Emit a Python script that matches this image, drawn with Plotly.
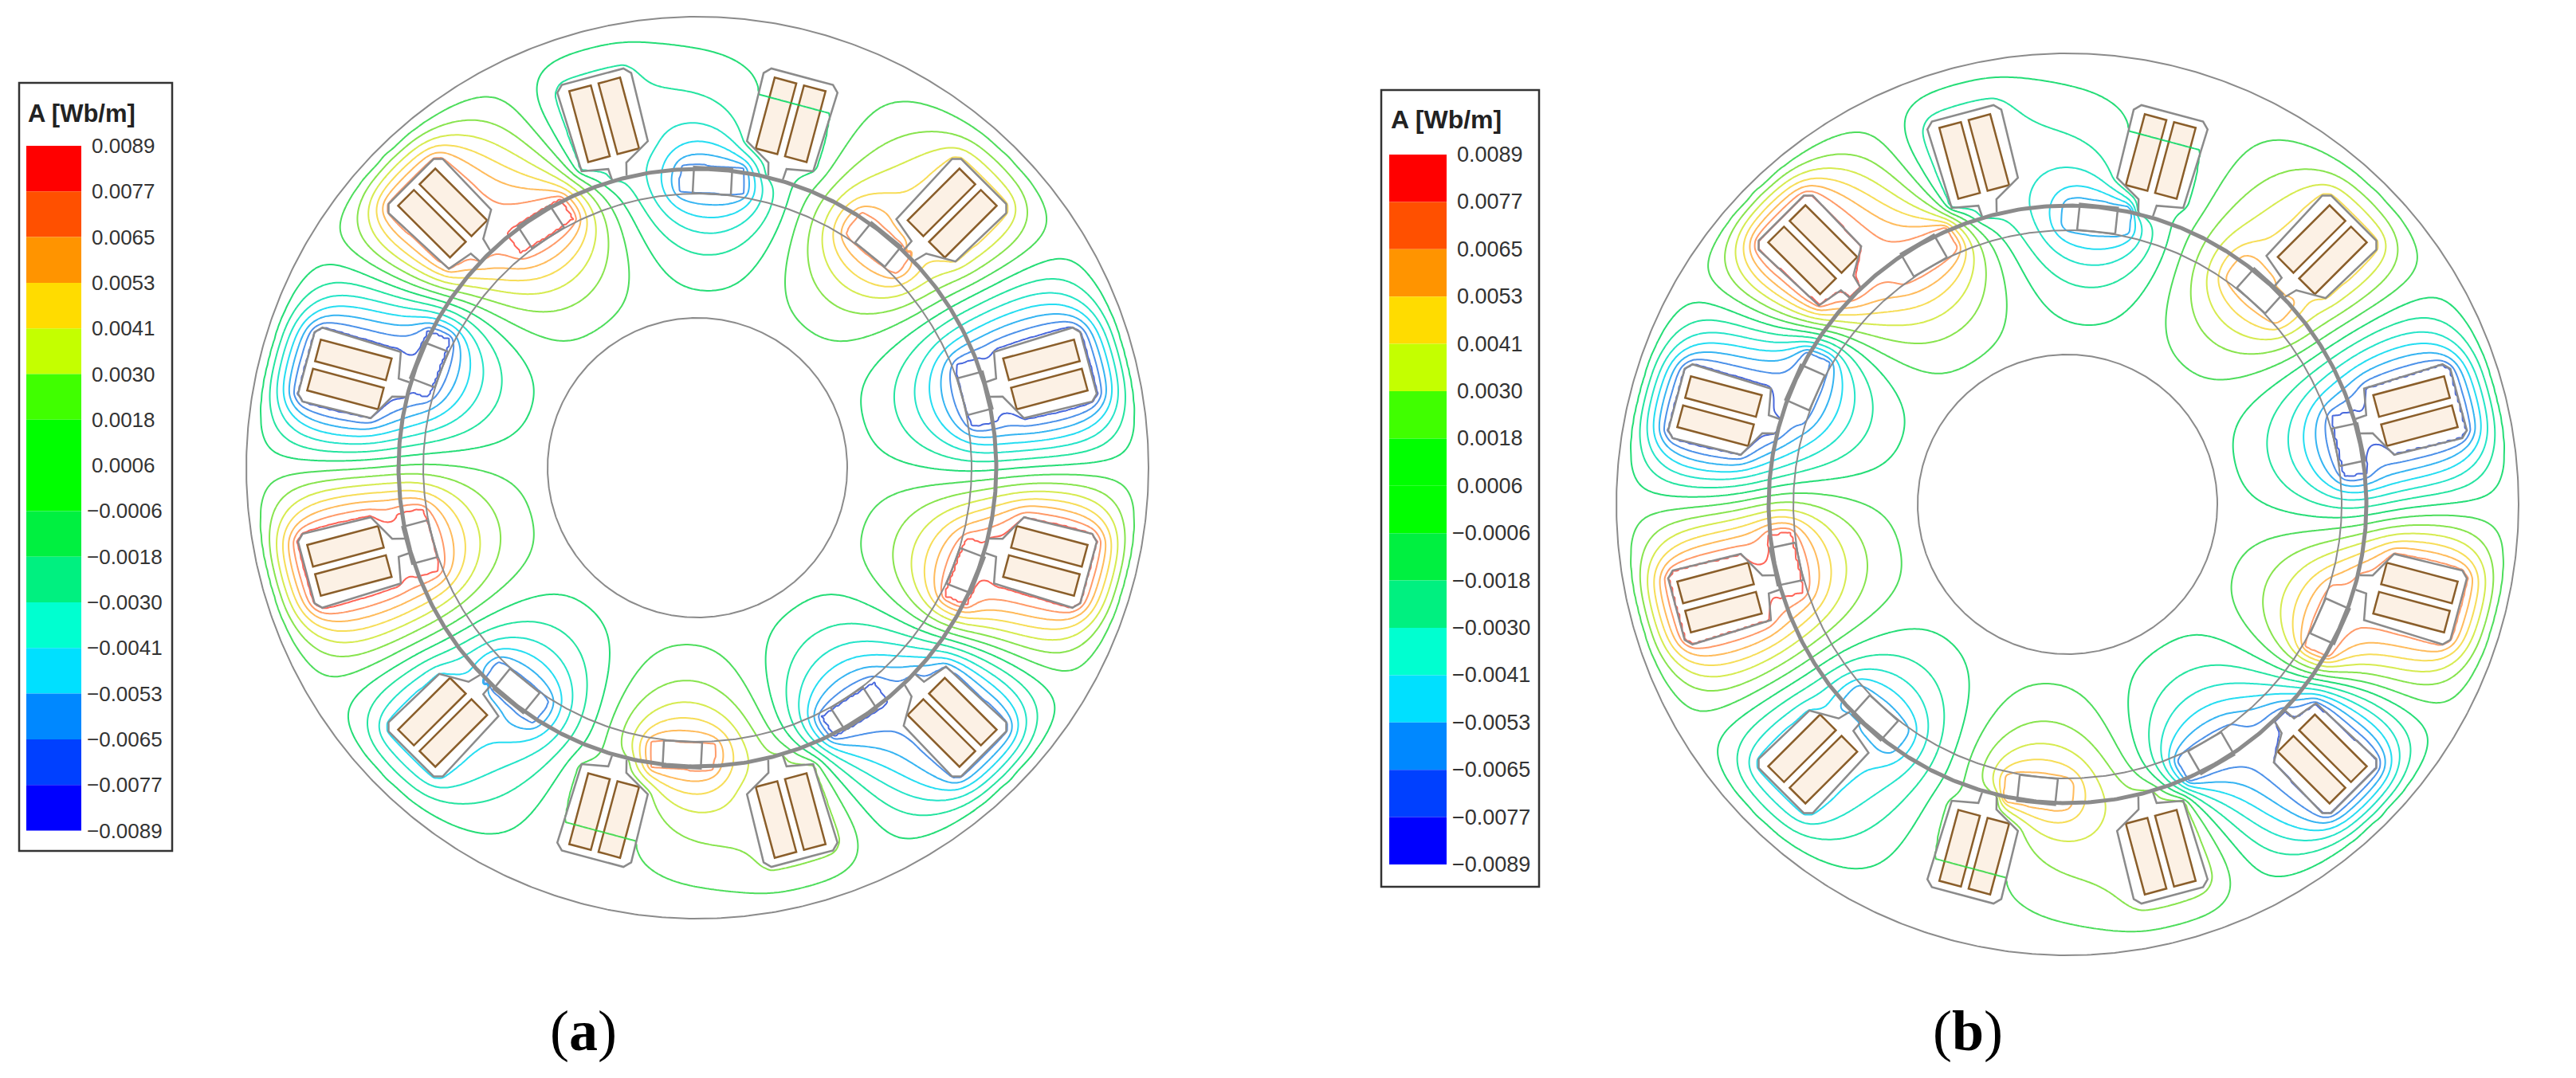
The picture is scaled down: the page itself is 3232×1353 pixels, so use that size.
import numpy as np
import plotly.graph_objects as go

W, H = 3232, 1353

# legend
LEVEL_LABELS = ["0.0089", "0.0077", "0.0065", "0.0053", "0.0041", "0.0030", "0.0018", "0.0006",
                "\u22120.0006", "\u22120.0018", "\u22120.0030", "\u22120.0041", "\u22120.0053",
                "\u22120.0065", "\u22120.0077", "\u22120.0089"]
BAND_COLORS = ["#ff0000", "#ff5000", "#ff9400", "#ffdc00", "#c4ff00", "#40ff00", "#00ff00", "#00ff00",
               "#00f040", "#00f080", "#00ffd0", "#00e0ff", "#0088ff", "#0040ff", "#0000ff"]
# contour line colour per level, from -0.0089 up to 0.0089
LINE_COLORS = ["#0000ff", "#2a4fd8", "#2f7fe6", "#14a8f0", "#00d8f0", "#00e0c0", "#00e090", "#00d860",
               "#30d840", "#74e030", "#d0e832", "#f6d83c", "#ffb040", "#ff8a50", "#ff4a3a", "#ff0000"]

# machine geometry, page pixels
CENTER_A = (875, 587)
CENTER_B = (2594, 633)
RING_RADII = [566, 375, 344, 188]
RING_WIDTHS = [2, 5, 2, 2]

# slot outline and coils in (radius, tangential offset) around each slot axis
SLOT_ANGLES = [15, 45, 75, 105, 135, 165, 195, 225, 255, 285, 315, 345]
SLOT_MIRROR = [1, 1, -1, 1, 1, -1, 1, 1, -1, 1, 1, -1]
SLOT_U = [377, 391, 397, 500, 508, 508, 500, 412, 393, 377]
SLOT_V = [10, 11, 44, 48, 40, -40, -48, -46, -13, -9]
COIL_U = [406, 498]
COIL_V = [5, 33]

MAGNET_U = [344, 377]
MAGNET_HALF = 24
ANGLES_MAGNET_A = [87, 51, 15, -21, -57, -93, -129, -165, 159, 123]
ANGLES_MAGNET_B = [84, 48, 12, -24, -60, -96, -132, -168, 156, 120]

# vector potential (count of lines round each part)
SLOT_INNER_A = [-0.0082, 0.0045, -0.0010, -0.0021, 0.0069, -0.0080, 0.0082, -0.0045, 0.0010, 0.0021, -0.0069, 0.0080]
SLOT_OUTER_A = [-0.0082, 0.0045, -0.0004, -0.0021, 0.0069, -0.0080, 0.0082, -0.0045, 0.0004, 0.0021, -0.0069, 0.0080]
MAGNET_VALUES_A = [-0.0068, 0.0070, -0.0080, 0.0078, -0.0078, 0.0068, -0.0070, 0.0080, -0.0078, 0.0078]
SLOT_INNER_B = [-0.0078, 0.0045, -0.0010, -0.0024, 0.0078, -0.0080, 0.0078, -0.0045, 0.0010, 0.0024, -0.0078, 0.0070]
SLOT_OUTER_B = [-0.0078, 0.0045, -0.0004, -0.0024, 0.0078, -0.0080, 0.0078, -0.0045, 0.0004, 0.0024, -0.0078, 0.0070]
MAGNET_VALUES_B = [-0.0060, 0.0062, -0.0078, 0.0072, -0.0072, 0.0060, -0.0062, 0.0078, -0.0072, 0.0072]

# the field itself: contours come from a Laplace solve between the read values above,
# it stands in for the original FE result, which is not available
FIELD_R_OUT = 558
FIELD_R_IN = 188
MAGNET_PATCH_U = [346, 378]
MAGNET_PATCH_V = 40
STEP = 3

LEVEL_MIN, LEVEL_MAX = -0.0089, 0.0089
LEVEL_SIZE = (LEVEL_MAX - LEVEL_MIN) / 15
GRAY = "#8b8b8b"


def local_to_page(center, angle, u, v):
    a = np.radians(angle)
    u, v = np.asarray(u, float), np.asarray(v, float)
    x = center[0] + u * np.cos(a) - v * np.sin(a)
    y = center[1] - u * np.sin(a) - v * np.cos(a)
    return x, y


def inside_poly(px, py, X, Y):
    res = np.zeros(X.shape, bool)
    n = len(px)
    for i in range(n):
        x1, y1, x2, y2 = px[i], py[i], px[(i + 1) % n], py[(i + 1) % n]
        if y1 == y2:
            continue
        cross = ((y1 > Y) != (y2 > Y)) & (X < (x2 - x1) * (Y - y1) / (y2 - y1) + x1)
        res ^= cross
    return res


def solve_field(center, slot_inner, slot_outer, mag_angles, mag_values):
    xs = np.arange(center[0] - 570, center[0] + 571, STEP, dtype=float)
    ys = np.arange(center[1] - 570, center[1] + 571, STEP, dtype=float)
    X, Y = np.meshgrid(xs, ys)
    R = np.hypot(X - center[0], Y - center[1])
    z = np.zeros(X.shape)
    fixed = (R >= FIELD_R_OUT) | (R <= FIELD_R_IN)
    for ang, mir, a0, a1 in zip(SLOT_ANGLES, SLOT_MIRROR, slot_inner, slot_outer):
        px, py = local_to_page(center, ang, SLOT_U, np.array(SLOT_V) * mir)
        m = inside_poly(px, py, X, Y)
        t = np.radians(ang)
        u = (X - center[0]) * np.cos(t) + (center[1] - Y) * np.sin(t)
        z[m] = (a0 + (np.clip(u, 398, 508) - 398) / 110 * (a1 - a0))[m]
        fixed |= m
    for ang, val in zip(mag_angles, mag_values):
        pu = [MAGNET_PATCH_U[0], MAGNET_PATCH_U[0], MAGNET_PATCH_U[1], MAGNET_PATCH_U[1]]
        pv = [-MAGNET_PATCH_V, MAGNET_PATCH_V, MAGNET_PATCH_V, -MAGNET_PATCH_V]
        px, py = local_to_page(center, ang, pu, pv)
        m = inside_poly(px, py, X, Y)
        z[m] = val
        fixed |= m
    # red-black SOR
    ii, jj = np.indices(z.shape)
    red = ((ii + jj) % 2 == 0) & ~fixed
    black = ((ii + jj) % 2 == 1) & ~fixed
    red[0, :] = red[-1, :] = False
    red[:, 0] = red[:, -1] = False
    black[0, :] = black[-1, :] = False
    black[:, 0] = black[:, -1] = False
    omega = 1.9
    for _ in range(900):
        for mask in (red, black):
            nb = np.zeros(z.shape)
            nb[1:-1, 1:-1] = 0.25 * (z[:-2, 1:-1] + z[2:, 1:-1] + z[1:-1, :-2] + z[1:-1, 2:])
            z[mask] += omega * (nb[mask] - z[mask])
    return xs, ys, z


def add_machine(fig, center, slot_inner, slot_outer, mag_angles, mag_values):
    theta = np.linspace(0, 2 * np.pi, 721)
    for r, w in zip(RING_RADII, RING_WIDTHS):
        fig.add_trace(go.Scatter(x=center[0] + r * np.cos(theta), y=center[1] + r * np.sin(theta),
                                 mode="lines", line=dict(color=GRAY, width=w), hoverinfo="skip"))
    for ang in mag_angles:
        u = [MAGNET_U[0], MAGNET_U[1], MAGNET_U[1], MAGNET_U[0], MAGNET_U[0]]
        v = [-MAGNET_HALF, -MAGNET_HALF, MAGNET_HALF, MAGNET_HALF, -MAGNET_HALF]
        x, y = local_to_page(center, ang, u, v)
        fig.add_trace(go.Scatter(x=x, y=y, mode="lines", line=dict(color=GRAY, width=2.5), hoverinfo="skip"))
    for ang, mir in zip(SLOT_ANGLES, SLOT_MIRROR):
        x, y = local_to_page(center, ang, SLOT_U + SLOT_U[:1], (np.array(SLOT_V + SLOT_V[:1]) * mir))
        # neck stays open towards the air gap
        fig.add_trace(go.Scatter(x=x[:-1], y=y[:-1], mode="lines", line=dict(color=GRAY, width=2.5), hoverinfo="skip"))
        for side in (1, -1):
            cu = [COIL_U[0], COIL_U[1], COIL_U[1], COIL_U[0]]
            cv = [COIL_V[0] * side, COIL_V[0] * side, COIL_V[1] * side, COIL_V[1] * side]
            x, y = local_to_page(center, ang, cu, cv)
            # shapes sit under the contour layer, a scatter fill would hide the line across the coil
            path = "M " + " L ".join(f"{a:.1f},{b:.1f}" for a, b in zip(x, y)) + " Z"
            fig.add_shape(type="path", path=path, fillcolor="#fcf1e5",
                          line=dict(color="#8a5e2a", width=2.5), layer="below")
    xs, ys, z = solve_field(center, slot_inner, slot_outer, mag_angles, mag_values)
    scale = [[i / 15, c] for i, c in enumerate(LINE_COLORS)]
    fig.add_trace(go.Contour(
        x=xs, y=ys, z=np.round(z, 7),
        autocontour=False,
        contours=dict(start=LEVEL_MIN, end=LEVEL_MAX + 1e-6, size=LEVEL_SIZE, coloring="lines"),
        colorscale=scale, zmin=LEVEL_MIN, zmax=LEVEL_MAX,
        line=dict(width=2, smoothing=1.0),
        showscale=False, hoverinfo="skip", opacity=0.85,
    ))


def add_legend(fig, left, top, bar_left, bar_top, step, box_w, box_h, bar_w, font, title_font, title_y):
    shapes = [dict(type="rect", x0=left, x1=left + box_w, y0=top, y1=top + box_h,
                   line=dict(color="#333333", width=2.5), fillcolor="white", layer="below")]
    for i, c in enumerate(BAND_COLORS):
        shapes.append(dict(type="rect", x0=bar_left, x1=bar_left + bar_w, y0=bar_top + i * step,
                           y1=bar_top + (i + 1) * step, line=dict(width=0), fillcolor=c, layer="below"))
    for s in shapes:
        fig.add_shape(**s)
    fig.add_annotation(x=bar_left, y=title_y, text="<b>A [Wb/m]</b>", showarrow=False, xanchor="left",
                       font=dict(family="Liberation Sans", size=title_font, color="#222222"))
    for i, lab in enumerate(LEVEL_LABELS):
        neg = lab.startswith("\u2212")
        fig.add_annotation(x=bar_left + bar_w + (5 if neg else 11), y=bar_top + i * step, text=lab, showarrow=False,
                           xanchor="left", font=dict(family="Liberation Sans", size=font, color="#333333"))


fig = go.Figure()
add_legend(fig, 24, 104, 33, 183, 57.3, 192, 964, 69, 26, 31, 142)
add_legend(fig, 1733, 113, 1743, 194, 59.4, 198, 1000, 72, 27, 32, 150)
add_machine(fig, CENTER_A, SLOT_INNER_A, SLOT_OUTER_A, ANGLES_MAGNET_A, MAGNET_VALUES_A)
add_machine(fig, CENTER_B, SLOT_INNER_B, SLOT_OUTER_B, ANGLES_MAGNET_B, MAGNET_VALUES_B)

for x, lab in [(732, "a"), (2469, "b")]:
    fig.add_annotation(x=x, y=1294, text=f"(<b>{lab}</b>)", showarrow=False,
                       font=dict(family="Liberation Serif", size=72, color="black"))

fig.update_layout(
    width=W, height=H, margin=dict(l=0, r=0, t=0, b=0),
    paper_bgcolor="white", plot_bgcolor="white", showlegend=False,
    xaxis=dict(range=[0, W], visible=False, fixedrange=True),
    yaxis=dict(range=[H, 0], visible=False, fixedrange=True),
)
fig.write_html("out.html", config=dict(displayModeBar=False),
               post_script="document.body.style.margin='0';")
